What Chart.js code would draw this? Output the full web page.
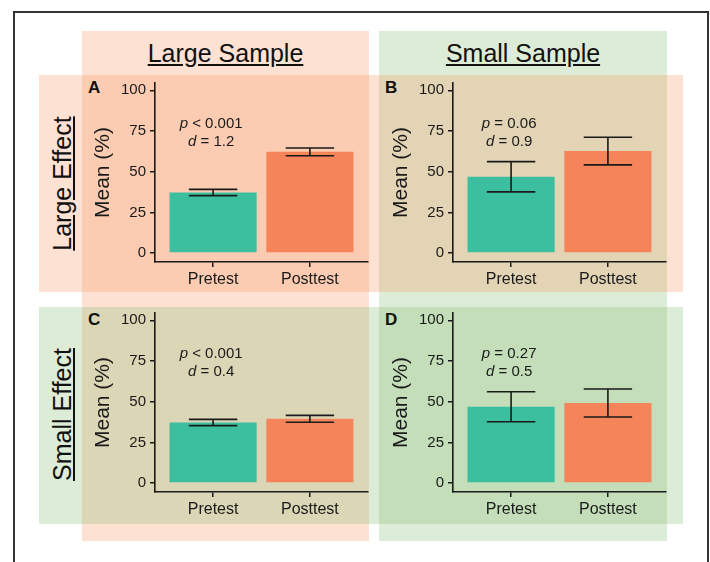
<!DOCTYPE html>
<html>
<head>
<meta charset="utf-8">
<script src="https://cdn.jsdelivr.net/npm/chart.js@4.4.0/dist/chart.umd.min.js"></script>
<style>
  body { margin: 0; background: #fff; width: 710px; height: 562px; overflow: hidden; position: relative;
         font-family: 'Liberation Sans', Arial, sans-serif; color: #111; }
  .frame { position: absolute; left: 13px; top: 11px; width: 696px; height: 620px; border: 2px solid #333; box-sizing: border-box; }
  .band { position: absolute; }
  .orange { background: rgba(247, 140, 80, 0.25); }
  .green { background: rgba(120, 180, 95, 0.25); }
  .coltitle { position: absolute; top: 41px; font-size: 25px; line-height: 25px; text-align: center; text-decoration: underline; text-underline-offset: 2px; }
  .rowtitle { position: absolute; width: 217px; height: 25px; font-size: 25px; line-height: 25px; text-align: center;
              text-decoration: underline; text-underline-offset: 2px; transform: rotate(-90deg); white-space: nowrap; }
  .letter { position: absolute; font-weight: bold; font-size: 17px; line-height: 17px; }
  canvas { position: absolute; }
</style>
</head>
<body>
<div class="frame"></div>

<div class="band orange" style="left:82px;top:31px;width:287px;height:510px"></div>
<div class="band green"  style="left:379px;top:31px;width:288px;height:510px"></div>
<div class="band orange" style="left:39px;top:75px;width:644px;height:217px"></div>
<div class="band green"  style="left:39px;top:307px;width:644px;height:217px"></div>

<div class="coltitle" style="left:82px;width:287px">Large Sample</div>
<div class="coltitle" style="left:379px;width:288px">Small Sample</div>
<div class="rowtitle" style="left:-46px;top:171px">Large Effect</div>
<div class="rowtitle" style="left:-46px;top:402px">Small Effect</div>

<div class="letter" style="left:88px;top:79px">A</div>
<div class="letter" style="left:385px;top:79px">B</div>
<div class="letter" style="left:88px;top:311px">C</div>
<div class="letter" style="left:385px;top:311px">D</div>

<canvas id="panelA" width="300" height="228" style="left:80px;top:67px"></canvas>
<canvas id="panelB" width="300" height="228" style="left:378px;top:67px"></canvas>
<canvas id="panelC" width="300" height="228" style="left:80px;top:297px"></canvas>
<canvas id="panelD" width="300" height="228" style="left:378px;top:297px"></canvas>

<script>
const categories = ['Pretest', 'Posttest'];
const yTicks = [0, 25, 50, 75, 100];

// moyennes et demi-largeurs des barres d'erreur, par panneau
const meansA = [37.2, 62.2];
const errA = [1.9, 2.4];
const meansB = [46.9, 62.7];
const errB = [9.3, 8.5];
const meansC = [37.2, 39.5];
const errC = [1.9, 2.1];
const meansD = [46.9, 49.2];
const errD = [9.2, 8.6];

const pLabels = ['< 0.001', '= 0.06', '< 0.001', '= 0.27'];
const dLabels = ['1.2', '0.9', '0.4', '0.5'];

const barColors = ['#3cbf9f', '#f5845a'];
const FONT = "'Liberation Sans', Arial, sans-serif";
const INK = '#1a1a1a';

function makePanel(id, means, errs, pText, dText) {
  const ctx = document.getElementById(id).getContext('2d');

  const errorBars = {
    id: 'errorBars',
    afterDatasetsDraw(chart) {
      const { ctx, scales: { x, y } } = chart;
      ctx.save();
      ctx.strokeStyle = INK;
      ctx.lineWidth = 1.6;
      means.forEach((m, i) => {
        const cx = x.getPixelForValue(i + 1);
        const left = x.getPixelForValue(i + 1 - 0.25);
        const right = x.getPixelForValue(i + 1 + 0.25);
        const top = y.getPixelForValue(m + errs[i]);
        const bot = y.getPixelForValue(m - errs[i]);
        ctx.beginPath();
        ctx.moveTo(cx, top); ctx.lineTo(cx, bot);
        ctx.moveTo(left, top); ctx.lineTo(right, top);
        ctx.moveTo(left, bot); ctx.lineTo(right, bot);
        ctx.stroke();
      });
      ctx.restore();
    }
  };

  const statsText = {
    id: 'statsText',
    afterDraw(chart) {
      const { ctx, scales: { x, y } } = chart;
      const cx = x.getPixelForValue(0.98);
      const lines = [['p', ' ' + pText, 77], ['d', ' = ' + dText, 66]];
      ctx.save();
      ctx.fillStyle = INK;
      ctx.textBaseline = 'alphabetic';
      ctx.textAlign = 'left';
      lines.forEach(([sym, rest, yv]) => {
        ctx.font = 'italic 15px ' + FONT;
        const w1 = ctx.measureText(sym).width;
        ctx.font = '15px ' + FONT;
        const w2 = ctx.measureText(rest).width;
        const x0 = cx - (w1 + w2) / 2;
        const py = y.getPixelForValue(yv);
        ctx.font = 'italic 15px ' + FONT;
        ctx.fillText(sym, x0, py);
        ctx.font = '15px ' + FONT;
        ctx.fillText(rest, x0 + w1, py);
      });
      ctx.restore();
    }
  };

  return new Chart(ctx, {
    type: 'bar',
    data: {
      datasets: [{
        data: means.map((m, i) => ({ x: i + 1, y: m })),
        backgroundColor: barColors,
        borderWidth: 0,
        barPercentage: 0.9,
        categoryPercentage: 1
      }]
    },
    options: {
      responsive: false,
      animation: false,
      layout: { padding: { top: 16, right: 12, left: 0, bottom: 0 } },
      plugins: { legend: { display: false }, tooltip: { enabled: false } },
      scales: {
        x: {
          type: 'linear',
          offset: false,
          min: 0.4, max: 2.6,
          afterBuildTicks: s => { s.ticks = categories.map((c, i) => ({ value: i + 1 })); },
          afterFit: s => { s.height = 33; },
          grid: { offset: false, drawOnChartArea: false, drawTicks: true, tickLength: 5, color: INK, lineWidth: 1.5 },
          border: { display: true, color: INK, width: 1.6 },
          ticks: { color: INK, font: { family: FONT, size: 16 }, padding: 3,
                   callback: v => categories[v - 1] }
        },
        y: {
          min: -5.5, max: 104.5,
          afterBuildTicks: s => { s.ticks = yTicks.map(v => ({ value: v })); },
          afterFit: s => { s.width = 75; },
          grid: { drawOnChartArea: false, drawTicks: true, tickLength: 5, color: INK, lineWidth: 1.5 },
          border: { display: true, color: INK, width: 1.6 },
          ticks: { color: INK, font: { family: FONT, size: 15 }, padding: 4 },
          title: { display: true, text: 'Mean (%)', color: INK,
                   font: { family: FONT, size: 21 }, padding: { top: 11, bottom: 0 } }
        }
      }
    },
    plugins: [errorBars, statsText]
  });
}

makePanel('panelA', meansA, errA, pLabels[0], dLabels[0]);
makePanel('panelB', meansB, errB, pLabels[1], dLabels[1]);
makePanel('panelC', meansC, errC, pLabels[2], dLabels[2]);
makePanel('panelD', meansD, errD, pLabels[3], dLabels[3]);
</script>
</body>
</html>
